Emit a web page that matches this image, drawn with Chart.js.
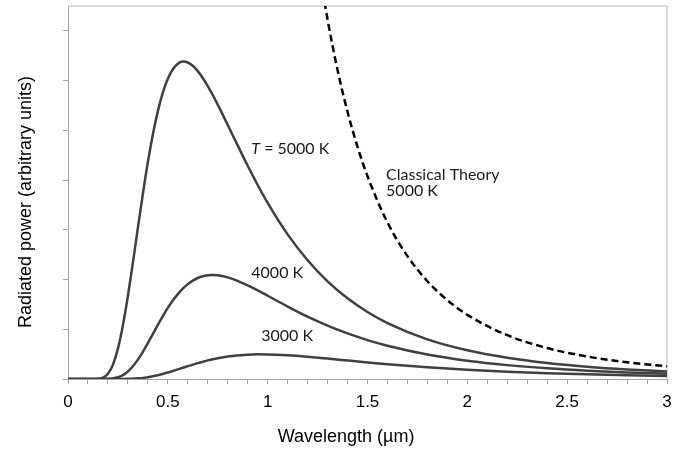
<!DOCTYPE html>
<html>
<head>
<meta charset="utf-8">
<script src="https://cdn.jsdelivr.net/npm/chart.js@4.4.1/dist/chart.umd.min.js"></script>
<style>
  html, body { margin: 0; padding: 0; background: #ffffff; }
  #wrap { width: 685px; height: 449px; }
</style>
</head>
<body>
<div id="wrap"><canvas id="c" width="685" height="449"></canvas></div>
<script>
// ---- data ----
const wavelengths = [0, 0.1, 0.15, 0.175, 0.2, 0.225, 0.25, 0.275, 0.3, 0.325, 0.35, 0.375, 0.4, 0.425, 0.45,
  0.475, 0.5, 0.525, 0.55, 0.575, 0.6, 0.625, 0.65, 0.675, 0.7, 0.725, 0.75,
  0.8, 0.9, 0.95, 1.0, 1.1, 1.2, 1.3, 1.4, 1.5, 1.6, 1.8, 2.0, 2.2, 2.4, 2.6, 2.8, 3.0];
const power5000 = [0, 0, 0.004, 0.026, 0.105, 0.288, 0.610, 1.078, 1.669, 2.339, 3.040, 3.724, 4.360, 4.918, 5.386,
  5.760, 6.037, 6.228, 6.340, 6.382, 6.364, 6.298, 6.191, 6.053, 5.890, 5.710, 5.516,
  5.108, 4.287, 3.901, 3.542, 2.908, 2.387, 1.964, 1.622, 1.346, 1.124,
  0.797, 0.577, 0.427, 0.322, 0.247, 0.192, 0.152];
const power4000 = [0, 0, 0, 0, 0.003, 0.012, 0.034, 0.079, 0.152, 0.256, 0.389, 0.547, 0.721, 0.904, 1.088,
  1.264, 1.429, 1.577, 1.707, 1.817, 1.908, 1.978, 2.031, 2.066, 2.085, 2.092, 2.085,
  2.044, 1.883, 1.781, 1.674, 1.457, 1.254, 1.073, 0.916, 0.782, 0.669,
  0.493, 0.368, 0.279, 0.215, 0.167, 0.132, 0.106];
const power3000 = [0, 0, 0, 0, 0, 0, 0, 0.001, 0.003, 0.006, 0.013, 0.022, 0.036, 0.054, 0.076,
  0.101, 0.130, 0.161, 0.193, 0.225, 0.258, 0.290, 0.320, 0.348, 0.374, 0.398, 0.419,
  0.453, 0.490, 0.496, 0.495, 0.477, 0.447, 0.410, 0.371, 0.333, 0.298,
  0.235, 0.186, 0.147, 0.117, 0.094, 0.076, 0.062];
const classicalWavelengths = [1.25, 1.3, 1.35, 1.4, 1.45, 1.5, 1.6, 1.7, 1.8, 1.9, 2.0, 2.2, 2.4, 2.6, 2.8, 3.0];
const classical5000 = [8.454, 7.227, 6.214, 5.373, 4.669, 4.077, 3.149, 2.471, 1.966, 1.584, 1.290, 0.881, 0.622, 0.452, 0.336, 0.255];

const xTickLabels = ['0', '0.5', '1', '1.5', '2', '2.5', '3'];
const xTitle = 'Wavelength (\u00b5m)';
const yTitle = 'Radiated power (arbitrary units)';

const labelItalic = ['T', '', '', '', ''];
const labelText = [' = 5000 K', '4000 K', '3000 K', 'Classical Theory', '5000 K'];
const labelX = [0.918, 0.918, 0.968, 1.593, 1.593];
const labelY = [4.52, 2.04, 0.765, 4.00, 3.68];

// ---- plugins ----
const framePlugin = {
  id: 'frame',
  beforeDatasetsDraw(chart) {
    const { ctx, chartArea: a } = chart;
    ctx.save();
    ctx.strokeStyle = '#d0d0d0';
    ctx.lineWidth = 1.5;
    ctx.beginPath();
    ctx.moveTo(a.left, a.top);
    ctx.lineTo(a.right, a.top);
    ctx.lineTo(a.right, a.bottom);
    ctx.stroke();
    ctx.restore();
  }
};

const textPlugin = {
  id: 'texts',
  afterDatasetsDraw(chart) {
    const { ctx } = chart;
    const xs = chart.scales.x, ys = chart.scales.y;
    ctx.save();
    ctx.fillStyle = '#1a1a1a';
    ctx.textBaseline = 'alphabetic';
    ctx.textAlign = 'left';
    for (let i = 0; i < labelText.length; i++) {
      let px = xs.getPixelForValue(labelX[i]);
      const py = ys.getPixelForValue(labelY[i]);
      if (labelItalic[i]) {
        ctx.font = 'italic 16px Lato';
        ctx.fillText(labelItalic[i], px, py);
        px += ctx.measureText(labelItalic[i]).width;
      }
      ctx.font = '16px Lato';
      ctx.fillText(labelText[i], px, py);
    }
    // axis titles
    ctx.fillStyle = '#000';
    ctx.font = '18px "Liberation Sans", Arial, sans-serif';
    ctx.textAlign = 'center';
    ctx.fillText(xTitle, 346, 442);
    ctx.translate(26, 202);
    ctx.rotate(-Math.PI / 2);
    ctx.textBaseline = 'middle';
    ctx.fillText(yTitle, 0, 0);
    ctx.restore();
  }
};

const toPts = (xs, ys) => xs.map((x, i) => ({ x, y: ys[i] }));

new Chart(document.getElementById('c'), {
  type: 'line',
  data: {
    datasets: [
      { label: 'T = 5000 K', data: toPts(wavelengths, power5000), borderColor: '#404040' },
      { label: '4000 K', data: toPts(wavelengths, power4000), borderColor: '#404040' },
      { label: '3000 K', data: toPts(wavelengths, power3000), borderColor: '#404040' },
      { label: 'Classical Theory 5000 K', data: toPts(classicalWavelengths, classical5000),
        borderColor: '#000000', borderDash: [7, 4] }
    ]
  },
  options: {
    responsive: false,
    animation: false,
    layout: { padding: { top: 6, right: 18, left: 0, bottom: 0 } },
    plugins: { legend: { display: false }, tooltip: { enabled: false } },
    elements: {
      point: { radius: 0 },
      line: { cubicInterpolationMode: 'monotone', borderWidth: 2.5, fill: false }
    },
    scales: {
      x: {
        type: 'linear', min: 0, max: 3,
        ticks: {
          stepSize: 0.1, autoSkip: false, maxRotation: 0, padding: 8,
          color: '#000',
          font: { family: '"Liberation Sans", Arial, sans-serif', size: 17 },
          callback: (v) => {
            const k = Math.round(v * 2);
            return Math.abs(v * 2 - k) < 1e-6 ? xTickLabels[k] : '';
          }
        },
        grid: { drawOnChartArea: false, drawTicks: true, tickLength: 5, color: '#a6a6a6' },
        border: { display: true, color: '#a6a6a6', width: 1 },
        afterFit: (s) => { s.height = 70; }
      },
      y: {
        min: 0, max: 7.5,
        ticks: { stepSize: 1, display: false },
        afterBuildTicks: (s) => { s.ticks = s.ticks.filter(t => Number.isInteger(t.value)); },
        grid: { drawOnChartArea: false, drawTicks: true, tickLength: 5, color: '#a6a6a6' },
        border: { display: true, color: '#a6a6a6', width: 1 },
        afterFit: (s) => { s.width = 68; }
      }
    }
  },
  plugins: [framePlugin, textPlugin]
});
</script>
</body>
</html>
